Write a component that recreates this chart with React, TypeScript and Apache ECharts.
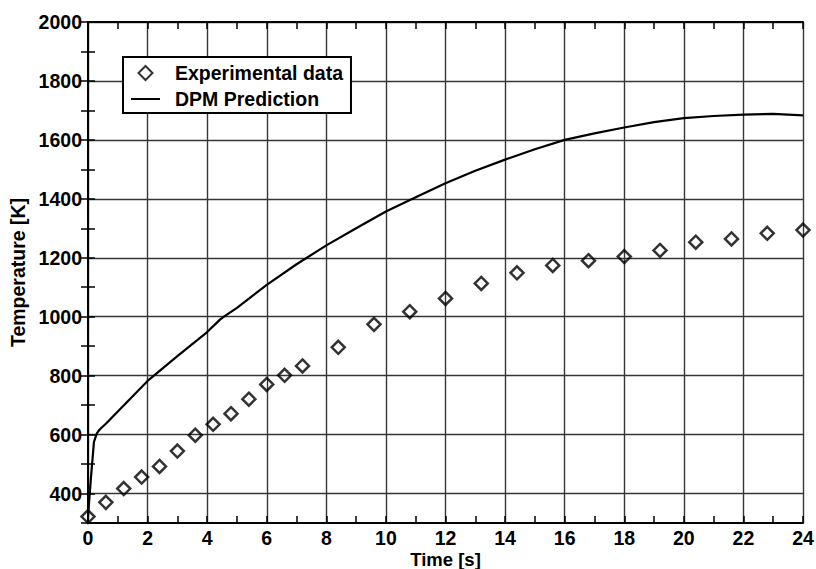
import React, { useEffect, useRef } from "react";
import * as echarts from "echarts";

const expTime = [0, 0.6, 1.2, 1.8, 2.4, 3.0, 3.6, 4.2, 4.8, 5.4, 6.0, 6.6, 7.2, 8.4, 9.6, 10.8, 12.0, 13.2, 14.4, 15.6, 16.8, 18.0, 19.2, 20.4, 21.6, 22.8, 24.0];
const expTemp = [322, 370, 417, 456, 492, 544, 598, 635, 671, 720, 770, 801, 833, 896, 974, 1017, 1062, 1113, 1149, 1174, 1190, 1204, 1225, 1253, 1264, 1283, 1294];

const dpmTime = [0, 0.1, 0.2, 0.3, 0.4, 0.6, 1, 2, 3, 4, 4.43, 4.6, 5, 6, 7, 8, 9, 10, 11, 12, 13, 14, 15, 16, 17, 18, 19, 20, 21, 22, 23, 24];
const dpmTemp = [322, 455, 575, 605, 618, 637, 678, 782, 866, 948, 990, 1003, 1030, 1108, 1178, 1242, 1300, 1357, 1405, 1453, 1495, 1533, 1568, 1600, 1622, 1642, 1660, 1674, 1681, 1686, 1688, 1683];

const xTickLabels = ["0", "2", "4", "6", "8", "10", "12", "14", "16", "18", "20", "22", "24"];
const yTickLabels = ["400", "600", "800", "1000", "1200", "1400", "1600", "1800", "2000"];

const FONT = "'Liberation Sans', Arial, Helvetica, sans-serif";
const GRID = "#363636";

export default function App() {
  const ref = useRef<HTMLDivElement>(null);
  useEffect(() => {
    if (!ref.current) return;
    const chart = echarts.init(ref.current, undefined, { renderer: "svg" });
    const labelStyle = { fontFamily: FONT, fontWeight: 700, fontSize: 19.5, color: "#000" };
    const axisLine = { show: true, lineStyle: { color: "#000", width: 2 } };
    const axisTick = { show: true, inside: true, length: 7, lineStyle: { color: "#000", width: 1.5 } };
    chart.setOption({
      animation: false,
      backgroundColor: "#fff",
      grid: { left: 88, right: 13, top: 22, bottom: 46, containLabel: false, outerBoundsMode: "none" },
      legend: {
        left: 123,
        top: 57,
        orient: "vertical",
        backgroundColor: "#fff",
        borderColor: "#000",
        borderWidth: 2,
        borderRadius: 0,
        padding: [6, 8, 4, 8],
        itemGap: 6,
        itemWidth: 29,
        itemHeight: 14,
        symbolKeepAspect: true,
        textStyle: { ...labelStyle, lineHeight: 20, padding: [0, 0, 0, 10] },
        data: [
          { name: "Experimental data", icon: "path://M6,0 L12,6 L6,12 L0,6 Z" },
          { name: "DPM Prediction", icon: "path://M0,0 L29,0 L29,2 L0,2 Z" },
        ],
      },
      xAxis: [
        {
          type: "value",
          min: 0,
          max: 24,
          interval: 1,
          position: "bottom",
          axisLine,
          axisTick,
          axisLabel: {
            ...labelStyle,
            lineHeight: 18,
            margin: 6,
            showMinLabel: true,
            showMaxLabel: true,
            formatter: (v: number) => (xTickLabels.includes(String(v)) ? String(v) : ""),
          },
          splitLine: { show: true, lineStyle: { color: [GRID, "rgba(0,0,0,0)"], width: 1.4 } },
          name: "Time [s]",
          nameLocation: "middle",
          nameGap: 27,
          nameMoveOverlap: false,
          nameTextStyle: { ...labelStyle, fontSize: 18.5, lineHeight: 19, verticalAlign: "top" },
        },
        {
          type: "value",
          min: 0,
          max: 24,
          interval: 1,
          position: "top",
          axisLine,
          axisTick,
          axisLabel: { show: false },
          splitLine: { show: false },
        },
      ],
      yAxis: [
        {
          type: "value",
          min: 300,
          max: 2000,
          interval: 100,
          position: "left",
          axisLine,
          axisTick,
          axisLabel: {
            ...labelStyle,
            margin: 6,
            showMaxLabel: true,
            formatter: (v: number) => (yTickLabels.includes(String(v)) ? String(v) : ""),
          },
          splitLine: { show: true, lineStyle: { color: ["rgba(0,0,0,0)", GRID], width: 1.4 } },
          name: "Temperature [K]",
          nameLocation: "middle",
          nameGap: 60,
          nameRotate: 90,
          nameMoveOverlap: false,
          nameTextStyle: { ...labelStyle, fontSize: 19.5 },
        },
        {
          type: "value",
          min: 300,
          max: 2000,
          interval: 100,
          position: "right",
          axisLine,
          axisTick,
          axisLabel: { show: false },
          splitLine: { show: false },
        },
      ],
      series: [
        {
          name: "Experimental data",
          type: "scatter",
          symbol: "diamond",
          symbolSize: 13,
          itemStyle: { color: "rgba(255,255,255,0)", borderColor: "#000", borderWidth: 2.5 },
          data: expTime.map((t, i) => [t, expTemp[i]]),
          z: 4,
          clip: false,
        },
        {
          name: "DPM Prediction",
          type: "line",
          symbol: "none",
          lineStyle: { color: "#000", width: 2.2 },
          itemStyle: { color: "#000" },
          data: dpmTime.map((t, i) => [t, dpmTemp[i]]),
          z: 3,
        },
      ],
    });
    return () => chart.dispose();
  }, []);
  return <div ref={ref} style={{ position: "fixed", left: 0, top: 0, width: 816, height: 569 }} />;
}
